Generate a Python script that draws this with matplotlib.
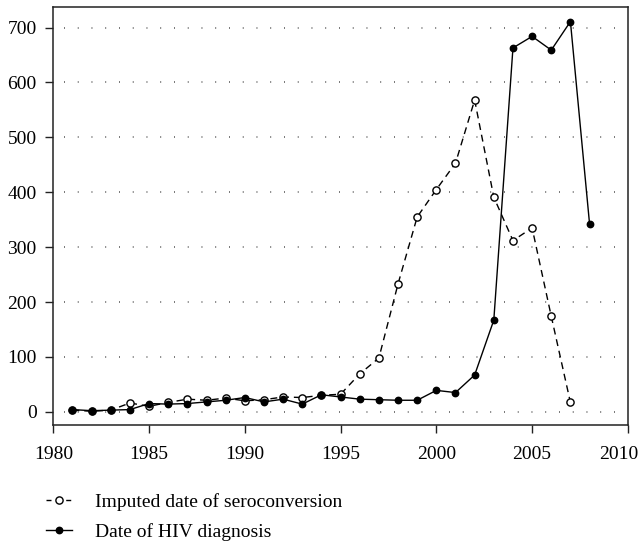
import matplotlib
matplotlib.use('Agg')
import matplotlib.pyplot as plt
import matplotlib.transforms as mtransforms

# data
sero_years = list(range(1981, 2008))
sero_counts = [3, 1, 3, 16, 10, 17, 23, 21, 25, 20, 22, 27, 26, 30, 32,
               69, 98, 233, 355, 405, 453, 568, 391, 312, 335, 174, 17]
diag_years = list(range(1981, 2009))
diag_counts = [4, 2, 3, 4, 15, 14, 15, 18, 21, 26, 18, 23, 14, 31, 27,
               23, 22, 21, 21, 39, 35, 67, 167, 663, 684, 659, 711, 342]
x_ticks = [1980, 1985, 1990, 1995, 2000, 2005, 2010]
y_ticks = [0, 100, 200, 300, 400, 500, 600, 700]
sero_label = 'Imputed date of seroconversion'
diag_label = 'Date of HIV diagnosis'

plt.rcParams['font.family'] = ['Liberation Serif', 'DejaVu Serif']
plt.rcParams['font.size'] = 14

fig = plt.figure(figsize=(6.42, 5.41), dpi=100)
ax = fig.add_axes([0.083, 0.2145, 0.895, 0.772])

# dotted horizontal guide lines (not full width)
for yv in y_ticks:
    ax.axhline(yv, xmin=0.019, xmax=0.982, color='#444444', lw=1.1,
               linestyle=(0, (0.6, 8.4)), zorder=1)

ax.plot(sero_years, sero_counts, color='black', lw=1.0, linestyle=(0, (5, 3.5)),
        marker='o', markersize=5.2, markerfacecolor='white', markeredgecolor='black',
        markeredgewidth=1.0, label=sero_label, zorder=3)
ax.plot(diag_years, diag_counts, color='black', lw=1.0, linestyle='-',
        marker='o', markersize=4.6, markerfacecolor='black', markeredgecolor='black',
        label=diag_label, zorder=4)

ax.set_xlim(1980, 2010)
ax.set_ylim(-24, 737)
ax.set_xticks(x_ticks)
ax.set_yticks(y_ticks)
ax.tick_params(axis='both', direction='out', length=6, width=1.0, colors='#222222',
               labelcolor='black')
ax.tick_params(axis='x', pad=9)
ax.tick_params(axis='y', pad=6)
for sp in ax.spines.values():
    sp.set_linewidth(1.1)
    sp.set_color('#222222')

# last x label sits a bit inside the frame, like the original
fig.canvas.draw()
last_lbl = ax.get_xticklabels()[-1]
last_lbl.set_transform(last_lbl.get_transform() +
                       mtransforms.ScaledTranslation(-9 / 100, 0, fig.dpi_scale_trans))

leg = ax.legend(loc='upper left', bbox_to_anchor=(0.072, 0.089), bbox_transform=fig.transFigure,
                frameon=False, borderpad=0, borderaxespad=0, handlelength=1.3,
                handletextpad=1.2, labelspacing=0.65, fontsize=14)
# symmetric "- o -" look for the dashed handle
leg.get_lines()[0].set_linestyle((0, (3.6, 10.6)))

fig.savefig('out.png', dpi=100)
